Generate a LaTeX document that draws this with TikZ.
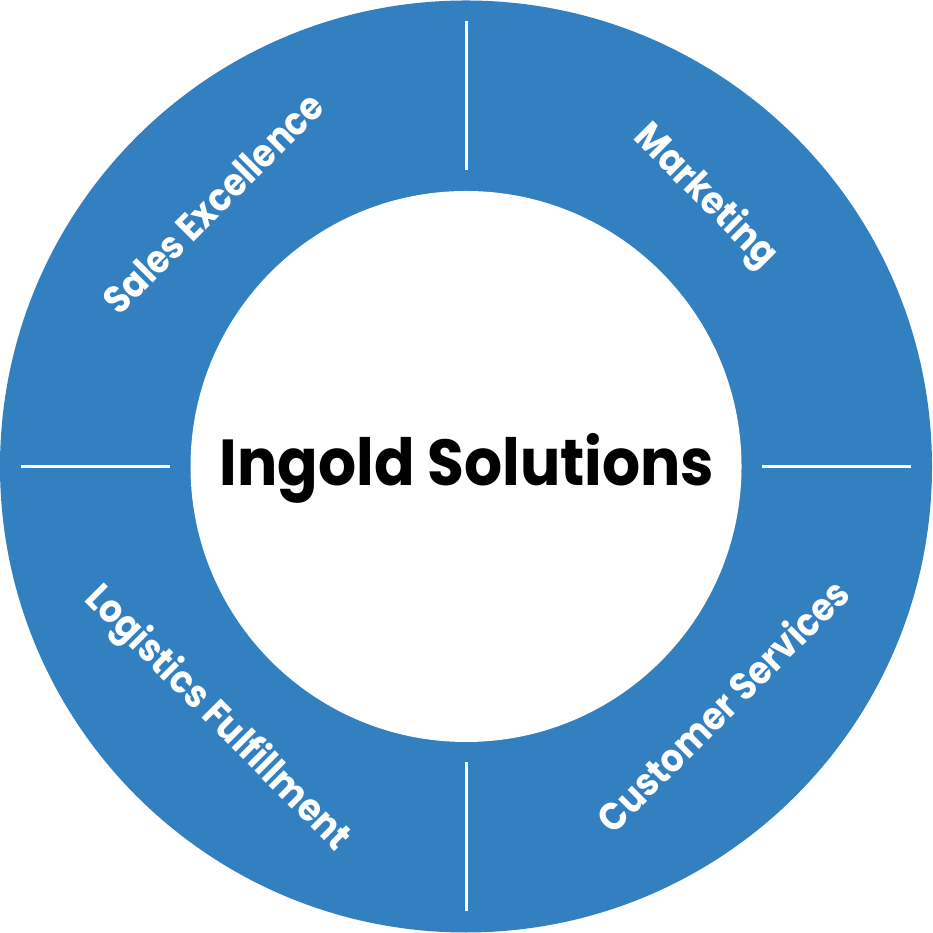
\documentclass[tikz,border=0pt]{standalone}
\usepackage{fontspec}
\setmainfont{Poppins}
\definecolor{ringblue}{RGB}{51,128,193}
\tikzset{
  segment label/.style={text=white, font=\bfseries\fontsize{11}{11}\selectfont, xscale=0.9},
  title label/.style={text=black, font=\bfseries\fontsize{18.5}{18.5}\selectfont, xscale=0.92},
  divider/.style={white, line width=0.3mm},
}
\begin{document}
\begin{tikzpicture}
    \useasboundingbox (0,0) rectangle (9.32,9.33);
    \coordinate (c) at (4.66,4.665);

    % Draw the ring
    \fill[ringblue] (c) circle (4.66);
    \fill[white] (c) circle (2.755);

    % Draw dividers
    \foreach \a in {0,90,180,270}
        \draw[divider] ([shift={(\a:2.96)}]c) -- ([shift={(\a:4.45)}]c);

    % Draw labels
    \node[title label, anchor=base] (title) at (4.67,4.47) {Ingold Solutions};
    \node[rotate=45, segment label] (sales) at (2.13,7.30) {Sales Excellence};
    \node[rotate=-45, segment label] (marketing) at (7.05,7.36) {Marketing};
    \node[rotate=-45, segment label] (logistics) at (2.17,2.14) {Logistics Fulfillment};
    \node[rotate=45, segment label] (customer) at (7.22,2.28) {Customer Services};
\end{tikzpicture}
\end{document}
